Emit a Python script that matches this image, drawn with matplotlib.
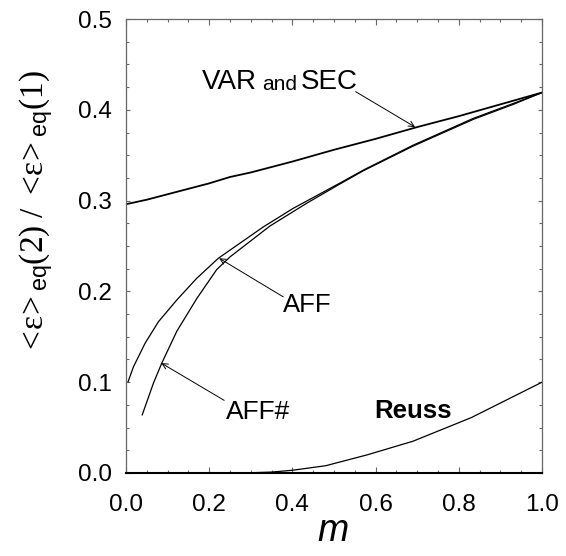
import matplotlib
matplotlib.use("Agg")
import matplotlib.pyplot as plt
from matplotlib.ticker import MultipleLocator, FormatStrFormatter

plt.rcParams["font.family"] = ["Liberation Sans", "DejaVu Sans"]
plt.rcParams["mathtext.fontset"] = "custom"
plt.rcParams["mathtext.rm"] = "Liberation Serif"
plt.rcParams["mathtext.it"] = "Liberation Serif:italic"
plt.rcParams["mathtext.sf"] = "Liberation Sans"

# VAR and SEC estimates
m_var = [0.0, 0.05, 0.1, 0.2, 0.25, 0.3, 0.4, 0.5, 0.6, 0.7, 0.8, 0.9, 1.0]
v_var = [0.296, 0.301, 0.307, 0.319, 0.326, 0.331, 0.343, 0.356, 0.368, 0.381, 0.393, 0.406, 0.419]

# AFF estimate
m_aff = [0.005, 0.018, 0.046, 0.078, 0.122, 0.17, 0.222, 0.33, 0.402, 0.513, 0.571, 0.69, 0.835, 0.931, 1.0]
v_aff = [0.1005, 0.117, 0.143, 0.1666, 0.1905, 0.2144, 0.2365, 0.271, 0.2915, 0.319, 0.3337, 0.361, 0.3906, 0.407, 0.419]

# AFF# estimate
m_affs = [0.039, 0.066, 0.086, 0.122, 0.17, 0.218, 0.25, 0.346, 0.434, 0.513, 0.571, 0.69, 0.835, 0.931, 1.0]
v_affs = [0.064, 0.099, 0.121, 0.156, 0.192, 0.224, 0.238, 0.272, 0.297, 0.318, 0.333, 0.360, 0.3895, 0.406, 0.419]

# Reuss bound
m_reuss = [0.28, 0.35, 0.40, 0.48, 0.58, 0.69, 0.83, 1.0]
v_reuss = [0.0, 0.001, 0.003, 0.008, 0.020, 0.035, 0.061, 0.100]

fig = plt.figure(figsize=(5.66, 5.56), dpi=100)
ax = fig.add_axes([0.2226, 0.1493, 0.735, 0.8165])

ax.plot(m_var, v_var, color="black", lw=1.3)
ax.plot(m_aff, v_aff, color="black", lw=0.9)
ax.plot(m_affs, v_affs, color="black", lw=0.9)
ax.plot(m_reuss, v_reuss, color="black", lw=0.9)

ax.set_xlim(0.0, 1.0)
ax.set_ylim(0.0, 0.5)
ax.xaxis.set_major_locator(MultipleLocator(0.2))
ax.xaxis.set_minor_locator(MultipleLocator(0.05))
ax.yaxis.set_major_locator(MultipleLocator(0.1))
ax.yaxis.set_minor_locator(MultipleLocator(0.025))
ax.xaxis.set_major_formatter(FormatStrFormatter("%.1f"))
ax.yaxis.set_major_formatter(FormatStrFormatter("%.1f"))

for s in ax.spines.values():
    s.set_color("#666666")
    s.set_linewidth(0.9)
ax.spines["bottom"].set_color("black")
ax.spines["bottom"].set_linewidth(1.5)

ax.tick_params(which="both", direction="in", top=True, right=True, color="#666666", width=0.8)
ax.tick_params(which="major", labelsize=17.5)
ax.tick_params(axis="x", which="major", length=4.3, pad=15)
ax.tick_params(axis="x", which="minor", length=2.5)
ax.tick_params(axis="y", which="major", length=3.0, pad=10)
ax.tick_params(axis="y", which="minor", length=2.0)

fig.text(333 / 566, 1 - 531 / 556, "m", fontsize=27, style="italic", ha="center", va="center")
fig.text(36 / 566, 1 - 212 / 556,
         r"$\mathrm{<\!ε\!>}_{\mathsf{eq}}\mathrm{(2)\ /\ <\!ε\!>}_{\mathsf{eq}}\mathrm{(1)}$",
         fontsize=24, rotation=90, ha="center", va="center")

arrow = dict(arrowstyle="->", color="black", lw=0.7, shrinkA=0, shrinkB=0)

ax.text(0.182, 0.431, "VAR", fontsize=20, ha="left", va="center")
ax.text(0.328, 0.428, "and", fontsize=15, ha="left", va="center")
ax.text(0.420, 0.431, "SEC", fontsize=20, ha="left", va="center")
ax.annotate("", xy=(0.695, 0.381), xytext=(0.552, 0.420), arrowprops=arrow)

ax.text(0.436, 0.185, "AFF", fontsize=18.5, ha="center", va="center")
ax.annotate("", xy=(0.224, 0.2365), xytext=(0.378, 0.194), arrowprops=arrow)

ax.text(0.318, 0.0675, "AFF#", fontsize=19, ha="center", va="center")
ax.annotate("", xy=(0.085, 0.121), xytext=(0.236, 0.080), arrowprops=arrow)

ax.text(0.691, 0.068, "Reuss", fontsize=18.5, weight="bold", ha="center", va="center")

fig.savefig("out.png", dpi=100)
